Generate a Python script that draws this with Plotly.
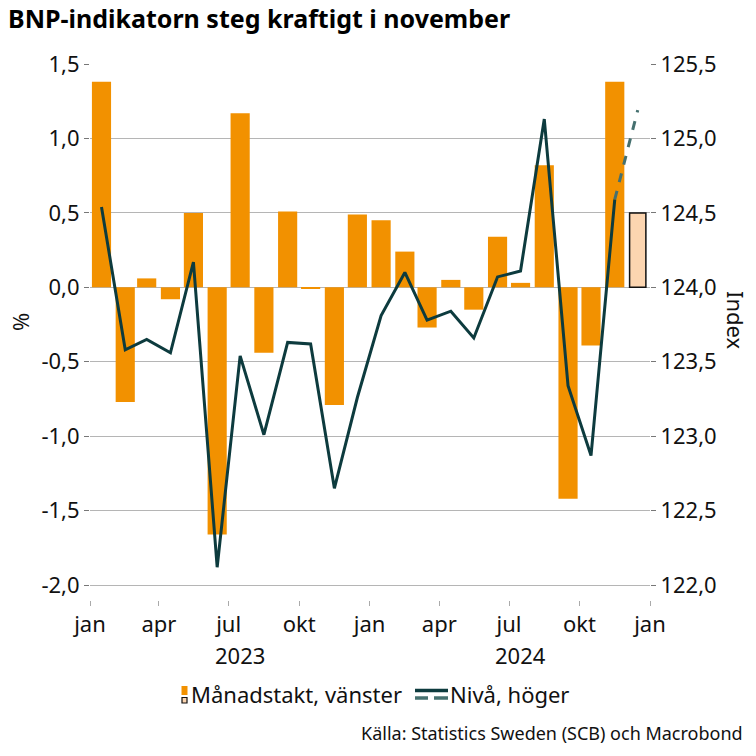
import plotly.graph_objects as go

months = ["2023-01", "2023-02", "2023-03", "2023-04", "2023-05", "2023-06",
          "2023-07", "2023-08", "2023-09", "2023-10", "2023-11", "2023-12",
          "2024-01", "2024-02", "2024-03", "2024-04", "2024-05", "2024-06",
          "2024-07", "2024-08", "2024-09", "2024-10", "2024-11"]
monthly_change = [1.38, -0.77, 0.06, -0.08, 0.50, -1.66, 1.17, -0.44, 0.51, -0.01,
                  -0.79, 0.49, 0.45, 0.24, -0.27, 0.05, -0.15, 0.34, 0.03, 0.82,
                  -1.42, -0.39, 1.38]
level = [124.54, 123.58, 123.65, 123.56, 124.17, 122.12, 123.54, 123.01, 123.63,
         123.62, 122.65, 123.26, 123.81, 124.10, 123.78, 123.84, 123.66, 124.07,
         124.11, 125.13, 123.34, 122.87, 124.59]
forecast_month = ["2024-11", "2024-12"]
forecast_level = [124.59, 125.19]
forecast_change_month = ["2024-12"]
forecast_change = [0.50]

tick_vals = ["2023-01-01", "2023-04-01", "2023-07-01", "2023-10-01", "2024-01-01",
             "2024-04-01", "2024-07-01", "2024-10-01", "2025-01-01"]
tick_text = ["jan", "apr", "jul", "okt", "jan", "apr", "jul", "okt", "jan"]
year_labels = ["2023", "2024"]
year_pos = ["2023-07-16", "2024-07-16"]
left_ticks = [-2, -1.5, -1, -0.5, 0, 0.5, 1, 1.5]
left_text = ["-2,0", "-1,5", "-1,0", "-0,5", "0,0", "0,5", "1,0", "1,5"]
right_ticks = [122, 122.5, 123, 123.5, 124, 124.5, 125, 125.5]
right_text = ["122,0", "122,5", "123,0", "123,5", "124,0", "124,5", "125,0", "125,5"]

def mid(m):
    return m + "-16"

ORANGE = "#F29100"
PEACH = "#FCD5B0"
DARK = "#0D3B3E"
DASH = "#45706F"
FONT = "Noto Sans"
FS = 22
bar_w = 25 * 86400000

# plot area in pixels (for placing legend/labels outside the plot)
L, R, T, B = 90, 650, 64, 600
def px(X):
    return (X - L) / (R - L)
def py(Y):
    return (B - Y) / (B - T)

fig = go.Figure()
fig.add_trace(go.Bar(x=[mid(m) for m in months], y=monthly_change, name="Månadstakt, vänster",
                     marker=dict(color=ORANGE, line=dict(width=0)), width=bar_w, yaxis="y"))
fig.add_trace(go.Bar(x=[mid(m) for m in forecast_change_month], y=forecast_change,
                     width=bar_w * 0.85,
                     marker=dict(color=PEACH, line=dict(color="#111111", width=1.5)), yaxis="y"))
fig.add_trace(go.Scatter(x=[mid(m) for m in forecast_month], y=forecast_level, mode="lines",
                         line=dict(color=DASH, width=3, dash="dash"), yaxis="y2"))
fig.add_trace(go.Scatter(x=[mid(m) for m in months], y=level, mode="lines", name="Nivå, höger",
                         line=dict(color=DARK, width=3), yaxis="y2"))

txt = dict(family=FONT, size=FS, color="#111")
for t, p in zip(year_labels, year_pos):
    fig.add_annotation(x=p, y=py(655), xref="x", yref="paper", text=t, showarrow=False,
                       font=txt, yanchor="middle", xanchor="center")

fig.add_annotation(x=px(20), y=py(322), xref="paper", yref="paper", text="%", textangle=-90,
                   showarrow=False, font=txt, xanchor="center", yanchor="middle")
fig.add_annotation(x=px(736), y=py(320), xref="paper", yref="paper", text="Index", textangle=90,
                   showarrow=False, font=txt, xanchor="center", yanchor="middle")

fig.add_annotation(x=px(745), y=py(733), xref="paper", yref="paper",
                   text="Källa: Statistics Sweden (SCB) och Macrobond", showarrow=False,
                   xanchor="right", yanchor="middle", font=dict(family=FONT, size=18, color="#111"))

# custom legend
shapes = [
    dict(type="rect", xref="paper", yref="paper", x0=px(181.5), x1=px(187.5), y0=py(695), y1=py(686),
         fillcolor=ORANGE, line=dict(width=0)),
    dict(type="rect", xref="paper", yref="paper", x0=px(182), x1=px(187), y0=py(703), y1=py(697.5),
         fillcolor=PEACH, line=dict(color="#111", width=1.2)),
    dict(type="line", xref="paper", yref="paper", x0=px(415), x1=px(448), y0=py(690.5), y1=py(690.5),
         line=dict(color=DARK, width=3.5)),
    dict(type="line", xref="paper", yref="paper", x0=px(415), x1=px(428), y0=py(698), y1=py(698),
         line=dict(color=DASH, width=3.5)),
    dict(type="line", xref="paper", yref="paper", x0=px(434), x1=px(448), y0=py(698), y1=py(698),
         line=dict(color=DASH, width=3.5)),
]
fig.add_annotation(x=px(189), y=py(694), xref="paper", yref="paper", text="Månadstakt, vänster",
                   showarrow=False, xanchor="left", yanchor="middle", font=txt)
fig.add_annotation(x=px(448), y=py(694), xref="paper", yref="paper", text="Nivå, höger",
                   showarrow=False, xanchor="left", yanchor="middle", font=txt)

fig.update_layout(
    width=756, height=756,
    margin=dict(l=L, r=756 - R, t=T, b=756 - B),
    paper_bgcolor="white", plot_bgcolor="white",
    separators=", ",
    barmode="overlay",
    showlegend=False,
    shapes=shapes,
    title=dict(text="<b>BNP-indikatorn steg kraftigt i november</b>", x=8 / 756, xanchor="left",
               y=1 - 19 / 756, yanchor="middle", xref="container", yref="container",
               font=dict(family=FONT, size=25, color="#000")),
    font=dict(family=FONT, size=FS, color="#111"),
    xaxis=dict(type="date", range=["2023-01-01", "2025-01-01"], tickvals=tick_vals,
               ticktext=tick_text, ticks="outside", ticklen=5, tickcolor="#AAA",
               showgrid=False, showline=False, zeroline=False, tickfont=dict(size=FS)),
    yaxis=dict(range=[-2.1, 1.5], tickvals=left_ticks, ticktext=left_text,
               showgrid=True, gridcolor="#B5B5B5", gridwidth=1,
               zeroline=False, ticks="outside", ticklen=5, tickcolor="#777", showline=False),
    yaxis2=dict(range=[121.9, 125.5], tickvals=right_ticks, ticktext=right_text,
                overlaying="y", side="right", showgrid=False, zeroline=False,
                ticks="outside", ticklen=5, tickcolor="#777", showline=False),
)
fig.write_html("out.html")
